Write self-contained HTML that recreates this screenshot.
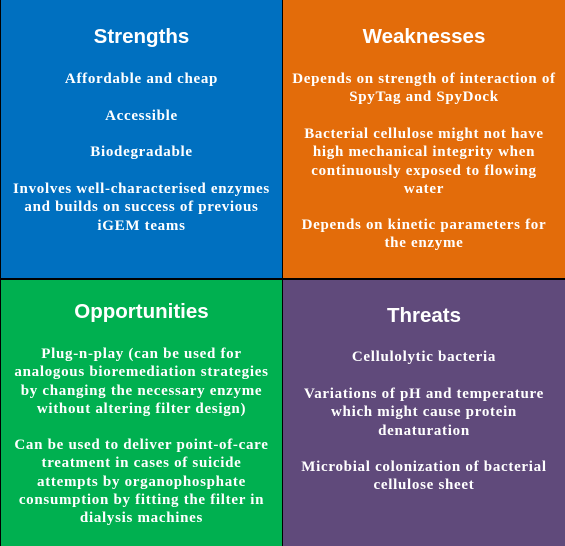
<!DOCTYPE html>
<html><head><meta charset="utf-8"><style>
body{margin:0;width:565px;height:546px;position:relative;overflow:hidden;background:#000}
.q{position:absolute}
.t{position:absolute;left:0;right:0;text-align:center;color:#fff;font-family:"Liberation Sans",sans-serif;font-size:20.5px;font-weight:bold;line-height:24px}
.p{position:absolute;left:0;right:0;text-align:center;color:#fff;font-family:"Liberation Serif",serif;font-weight:bold;font-size:15px;letter-spacing:0.7px;line-height:18.3px;white-space:nowrap}
</style></head><body>
<div class="q" style="left:1px;top:0;width:281px;height:278px;background:#0070C0">
<div class="t" style="top:25px">Strengths</div>
<div class="p" style="top:70px">Affordable and cheap</div>
<div class="p" style="top:107px">Accessible</div>
<div class="p" style="top:143px">Biodegradable</div>
<div class="p" style="top:180px">Involves well-characterised enzymes<br>and builds on success of previous<br>iGEM teams</div>
</div>
<div class="q" style="left:283px;top:0;width:282px;height:278px;background:#E36C0A">
<div class="t" style="top:25px">Weaknesses</div>
<div class="p" style="top:70px">Depends on strength of interaction of<br>SpyTag and SpyDock</div>
<div class="p" style="top:125px">Bacterial cellulose might not have<br>high mechanical integrity when<br>continuously exposed to flowing<br>water</div>
<div class="p" style="top:216px">Depends on kinetic parameters for<br>the enzyme</div>
</div>
<div class="q" style="left:1px;top:280px;width:281px;height:266px;background:#00B050">
<div class="t" style="top:20px">Opportunities</div>
<div class="p" style="top:65px">Plug-n-play (can be used for<br>analogous bioremediation strategies<br>by changing the necessary enzyme<br>without altering filter design)</div>
<div class="p" style="top:156px">Can be used to deliver point-of-care<br>treatment in cases of suicide<br>attempts by organophosphate<br>consumption by fitting the filter in<br>dialysis machines</div>
</div>
<div class="q" style="left:283px;top:280px;width:282px;height:266px;background:#604A7B">
<div class="t" style="top:24px">Threats</div>
<div class="p" style="top:68px">Cellulolytic bacteria</div>
<div class="p" style="top:105px">Variations of pH and temperature<br>which might cause protein<br>denaturation</div>
<div class="p" style="top:178px">Microbial colonization of bacterial<br>cellulose sheet</div>
</div>
</body></html>
